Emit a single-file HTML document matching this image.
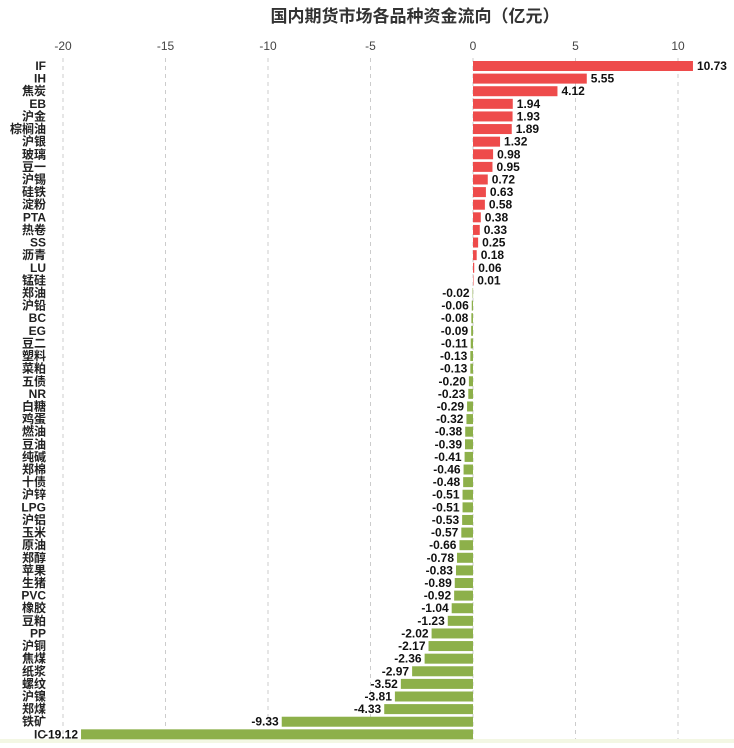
<!DOCTYPE html>
<html><head><meta charset="utf-8">
<style>
body{margin:0;background:#fff;width:734px;height:743px;overflow:hidden;font-family:"Liberation Sans","Noto Sans CJK SC",sans-serif;}
</style></head>
<body>
<svg id="chart" width="734" height="743" xmlns="http://www.w3.org/2000/svg">
<rect x="0" y="739" width="734" height="4" fill="#f3f7e4"/>
<text x="415" y="22" text-anchor="middle" font-size="17" font-weight="bold" fill="#333" font-family="'Liberation Sans','Noto Sans CJK SC',sans-serif">国内期货市场各品种资金流向（亿元）</text>
<g id="grid"></g><g id="bars"></g>
</svg>
<script>
const categories=["IF","IH","焦炭","EB","沪金","棕榈油","沪银","玻璃","豆一","沪锡","硅铁","淀粉","PTA","热卷","SS","沥青","LU","锰硅","郑油","沪铅","BC","EG","豆二","塑料","菜粕","五债","NR","白糖","鸡蛋","燃油","豆油","纯碱","郑棉","十债","沪锌","LPG","沪铝","玉米","原油","郑醇","苹果","生猪","PVC","橡胶","豆粕","PP","沪铜","焦煤","纸浆","螺纹","沪镍","郑煤","铁矿","IC"];
const values=[10.73,5.55,4.12,1.94,1.93,1.89,1.32,0.98,0.95,0.72,0.63,0.58,0.38,0.33,0.25,0.18,0.06,0.01,-0.02,-0.06,-0.08,-0.09,-0.11,-0.13,-0.13,-0.20,-0.23,-0.29,-0.32,-0.38,-0.39,-0.41,-0.46,-0.48,-0.51,-0.51,-0.53,-0.57,-0.66,-0.78,-0.83,-0.89,-0.92,-1.04,-1.23,-2.02,-2.17,-2.36,-2.97,-3.52,-3.81,-4.33,-9.33,-19.12];
const ticks=[-20,-15,-10,-5,0,5,10];
const NS="http://www.w3.org/2000/svg";
const x0=473,scale=20.5,yTop=66,step=12.61,bh=10;
const X=v=>x0+v*scale, Y=i=>yTop+i*step;
const grid=document.getElementById('grid'),bars=document.getElementById('bars');
function mk(tag,attrs,parent){const e=document.createElementNS(NS,tag);for(const k in attrs)e.setAttribute(k,attrs[k]);parent.appendChild(e);return e;}
ticks.forEach(t=>{
 const l=mk('line',{x1:X(t),x2:X(t),y1:58,y2:739,stroke:'#ccc','stroke-dasharray':'4,4'},grid);
 
 
 const tx=mk('text',{x:X(t),y:50,'text-anchor':'middle','font-size':12,fill:'#444'},grid);
 tx.textContent=t;
 
 
});
categories.forEach((c,i)=>{
 const v=values[i],cy=Y(i);
 const lab=mk('text',{x:46,y:cy+4,'text-anchor':'end','font-size':12,'font-weight':'bold',fill:'#222'},bars);
 lab.textContent=c;
 
 
 const xa=Math.min(X(0),X(v)),w=Math.max(Math.abs(X(v)-X(0)),0.5);
 const r=mk('rect',{x:xa,y:cy-bh/2,width:w,height:bh,fill:v>=0?'#ee4b4b':'#8db04a'},bars);
 
 
 const vt=mk('text',{x:v>=0?X(v)+4:X(v)-3,y:cy+4,'text-anchor':v>=0?'start':'end','font-size':12,'font-weight':'bold',fill:'#111'},bars);
 vt.textContent=v.toFixed(2);
 
 
});
</script>
</body></html>
